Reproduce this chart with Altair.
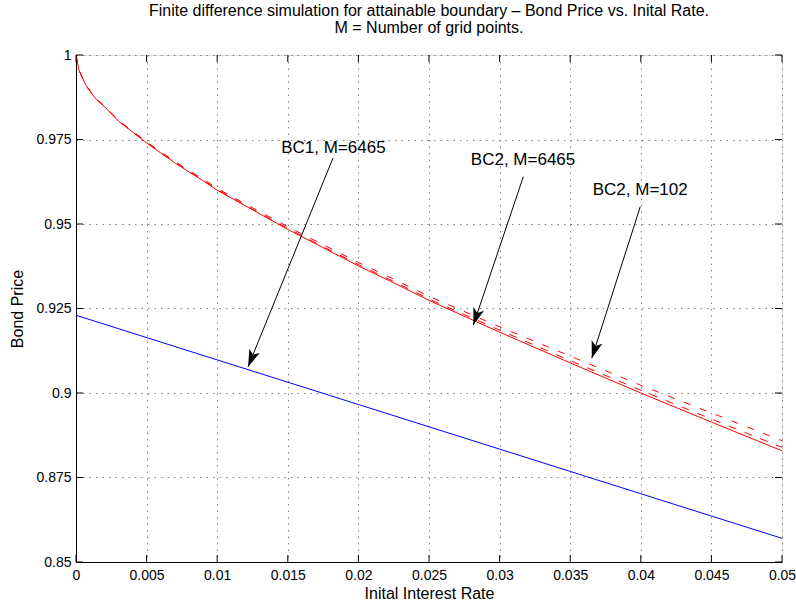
import math
import altair as alt
import pandas as pd

# ---------------- data ----------------
x_red = [0, 0.0002, 0.0007, 0.0014, 0.002, 0.003, 0.004, 0.005, 0.006, 0.007,
         0.008, 0.009, 0.01, 0.0125, 0.015, 0.0175, 0.02, 0.0225, 0.025, 0.03,
         0.035, 0.04, 0.045, 0.05]
y_solid = [1.0, 0.9956, 0.9910, 0.9870, 0.9848, 0.9805, 0.9772, 0.9740, 0.9710,
           0.9681, 0.9654, 0.9628, 0.9600, 0.9542, 0.9484, 0.9430, 0.9376,
           0.9326, 0.9274, 0.9180, 0.9089, 0.9000, 0.8914, 0.8829]
y_mid = [1.0, 0.9956, 0.9910, 0.9870, 0.9849, 0.9806, 0.9773, 0.9741, 0.9711,
         0.9683, 0.9656, 0.9630, 0.9602, 0.9544, 0.9487, 0.9433, 0.9380,
         0.9330, 0.9278, 0.9186, 0.9096, 0.9008, 0.8923, 0.8839]
y_top = [1.0, 0.9956, 0.9911, 0.9871, 0.9850, 0.9807, 0.9775, 0.9743, 0.9714,
         0.9685, 0.9658, 0.9633, 0.9605, 0.9548, 0.9492, 0.9439, 0.9386,
         0.9337, 0.9286, 0.9196, 0.9109, 0.9023, 0.8941, 0.8859]

x_blue = [0, 0.01, 0.02, 0.03, 0.04, 0.05]
y_blue = [0.923, 0.9098, 0.8966, 0.8834, 0.8702, 0.857]

x_ticks = [0, 0.005, 0.01, 0.015, 0.02, 0.025, 0.03, 0.035, 0.04, 0.045, 0.05]
y_ticks = [0.85, 0.875, 0.9, 0.925, 0.95, 0.975, 1.0]

ann_text = ["BC1, M=6465", "BC2, M=6465", "BC2, M=102"]
ann_x = [0.01823, 0.03166, 0.03996]
ann_y = [0.9725, 0.9689, 0.9601]
arrow_x0 = [0.0182, 0.03168, 0.03996]
arrow_y0 = [0.9695, 0.9640, 0.9551]
arrow_x1 = [0.01219, 0.02814, 0.03653]
arrow_y1 = [0.9078, 0.9201, 0.9103]

title_lines = ["Finite difference simulation for attainable boundary \u2013 Bond Price vs. Inital Rate.",
               "M = Number of grid points."]
x_title = "Inital Interest Rate"
y_title = "Bond Price"

# ---------------- layout / style ----------------
W, H = 706, 507
XMIN, XMAX = 0.0, 0.05
YMIN, YMAX = 0.85, 1.0
FONT = "Liberation Sans"
TICK_PX = 7

xs = alt.Scale(domain=[XMIN, XMAX], nice=False, zero=False)
ys = alt.Scale(domain=[YMIN, YMAX], nice=False, zero=False)

xaxis = alt.Axis(values=x_ticks, format=".3~f", title=x_title, grid=True,
                 gridDash=[1.5, 5], gridColor="#808080", gridWidth=1,
                 tickSize=0, labelPadding=6, domainColor="black",
                 labelFont=FONT, labelFontSize=14, labelColor="black",
                 titleFont=FONT, titleFontSize=16, titleFontWeight="normal",
                 titleColor="black", titlePadding=3, labelFlush=False)
yaxis = alt.Axis(values=y_ticks, format=".3~f", title=y_title, grid=True,
                 gridDash=[1.5, 5], gridColor="#808080", gridWidth=1,
                 tickSize=0, labelPadding=5, domainColor="black",
                 labelFont=FONT, labelFontSize=14, labelColor="black",
                 titleFont=FONT, titleFontSize=16, titleFontWeight="normal",
                 titleColor="black", titlePadding=10, labelFlush=False)


def X(f):
    return alt.X(f, type="quantitative", scale=xs, axis=xaxis)


def Y(f):
    return alt.Y(f, type="quantitative", scale=ys, axis=yaxis)


red_df = pd.DataFrame({"x": x_red, "solid": y_solid, "mid": y_mid, "top": y_top})
blue_df = pd.DataFrame({"x": x_blue, "y": y_blue})

solid = alt.Chart(red_df).mark_line(color="#ff0000", strokeWidth=1, clip=True).encode(
    x=X("x"), y=Y("solid"), order="x:Q")
mid = alt.Chart(red_df).mark_line(color="#ff0000", strokeWidth=1, strokeDash=[8, 9], clip=True).encode(
    x=X("x"), y=Y("mid"), order="x:Q")
top = alt.Chart(red_df).mark_line(color="#ff0000", strokeWidth=1, strokeDash=[7, 10], clip=True).encode(
    x=X("x"), y=Y("top"), order="x:Q")
blue = alt.Chart(blue_df).mark_line(color="#0000ff", strokeWidth=1, clip=True).encode(
    x=X("x"), y=Y("y"), order="x:Q")

# inward tick marks (MATLAB style) on all four sides
tx = TICK_PX / W * (XMAX - XMIN)
ty = TICK_PX / H * (YMAX - YMIN)
tick_rows = []
for v in x_ticks:
    tick_rows.append({"x": v, "x2": v, "y": YMIN, "y2": YMIN + ty})
    tick_rows.append({"x": v, "x2": v, "y": YMAX, "y2": YMAX - ty})
for v in y_ticks:
    tick_rows.append({"x": XMIN, "x2": XMIN + tx, "y": v, "y2": v})
    tick_rows.append({"x": XMAX, "x2": XMAX - tx, "y": v, "y2": v})
ticks = alt.Chart(pd.DataFrame(tick_rows)).mark_rule(color="black", strokeWidth=1).encode(
    x=X("x"), x2="x2", y=Y("y"), y2="y2")

# annotations
ann_df = pd.DataFrame({"t": ann_text, "x": ann_x, "y": ann_y})
texts = alt.Chart(ann_df).mark_text(font=FONT, fontSize=17, color="black",
                                    align="center", baseline="middle").encode(
    x=X("x"), y=Y("y"), text="t:N")

angles = []
for a, b, c, d in zip(arrow_x0, arrow_y0, arrow_x1, arrow_y1):
    dx = (c - a) / (XMAX - XMIN) * W
    dy = -(d - b) / (YMAX - YMIN) * H
    angles.append((math.degrees(math.atan2(dx, -dy)) + 360) % 360)
arr_df = pd.DataFrame({"x0": arrow_x0, "y0": arrow_y0, "x1": arrow_x1,
                       "y1": arrow_y1, "ang": angles})
shafts = alt.Chart(arr_df).mark_rule(color="black", strokeWidth=1).encode(
    x=X("x0"), y=Y("y0"), x2="x1", y2="y1")
HEAD = "M0,0 L0.33,1 L0,0.75 L-0.33,1 Z"
heads = alt.Chart(arr_df).mark_point(shape=HEAD, filled=True, size=1156,
                                     color="black", opacity=1, strokeWidth=0).encode(
    x=X("x1"), y=Y("y1"), angle=alt.Angle("ang:Q", scale=None))

chart = alt.layer(solid, mid, top, blue, ticks, shafts, heads, texts).properties(
    width=W, height=H,
    autosize=alt.AutoSizeParams(type="none"),
    padding={"left": 76, "top": 55, "right": 14, "bottom": 42},
    title=alt.TitleParams(text=title_lines, anchor="middle", font=FONT,
                          fontSize=16, fontWeight="normal", color="black",
                          offset=12, lineHeight=17),
).configure_view(stroke="black", strokeWidth=1).configure(background="white")

chart.save("out.html", embed_options={"renderer": "svg", "actions": False})
